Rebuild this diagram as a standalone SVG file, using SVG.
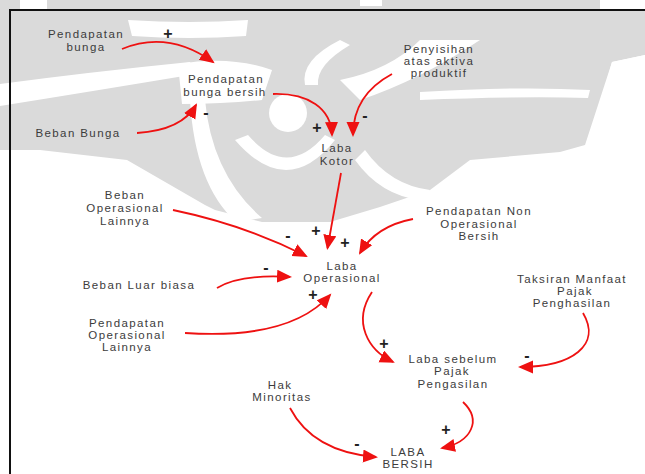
<svg xmlns="http://www.w3.org/2000/svg" width="645" height="474" viewBox="0 0 645 474">
  <style>
    .wm { fill: #dadada; }
    .cut { fill: #ffffff; }
    .lbl { font-family: "Liberation Sans", Arial, sans-serif; font-size: 11.5px; letter-spacing: 1.4px; fill: #3c3c3c; text-anchor: middle; }
    .sign { font-family: "Liberation Sans", Arial, sans-serif; font-size: 16px; font-weight: bold; fill: #222; text-anchor: middle; }
    .link { fill: none; stroke: #ee1111; stroke-width: 1.8; marker-end: url(#head); }
    .frame { fill: none; stroke: #111; stroke-width: 2; }
  </style>
  <defs>
    <marker id="head" markerUnits="userSpaceOnUse" markerWidth="16" markerHeight="14" refX="13" refY="6.5" orient="auto">
      <path d="M0,0 L15,6.5 L0,13 Z" fill="#ee1111"/>
    </marker>
  </defs>
  <rect width="645" height="474" fill="#ffffff"/>

  <!-- background emblem (light grey) -->
  <g id="emblem">
    <path class="wm" d="M0,0 H645 V55 L612,62 L585,145 L560,152 L470,160 L430,190 L380,207 L330,222 L262,222 L215,210 L205,205 L127,160 L40,150 L0,150 Z"/>
    <!-- white gaps along the upper edge -->
    <rect class="cut" x="20" y="0" width="27" height="9"/>
    <rect class="cut" x="600" y="0" width="45" height="9"/>
    <rect class="cut" x="360" y="0" width="22" height="6"/>
    <!-- white stripes between the grey rays -->
    <path class="cut" d="M0,84 Q90,72 190,62 L196,74 Q100,90 0,106 Z"/>
    <path class="cut" d="M178,64 Q230,55 272,70 L262,100 Q225,104 182,104 Z"/>
    <path class="cut" d="M205,100 Q212,175 262,218 L236,222 Q195,185 190,100 Z"/>
    <path class="cut" d="M235,140 Q287,200 335,140 L325,135 Q287,180 248,135 Z"/>
    <circle class="cut" cx="288" cy="113" r="19"/>
    <path class="cut" d="M340,80 Q390,70 420,40 L480,40 Q420,80 360,100 Z"/>
    <path class="cut" d="M420,92 Q520,86 590,90 L588,98 Q520,96 420,100 Z"/>
    <path class="cut" d="M128,20 Q190,24 248,20 L246,36 Q190,40 132,36 Z"/>
    <path class="cut" d="M340,40 Q300,60 305,85 L318,85 Q316,65 350,45 Z"/>
    <path class="cut" d="M612,62 L645,55 V160 L585,160 Z"/>
    <path class="cut" d="M365,150 Q390,185 430,190 L420,200 Q380,195 355,160 Z"/>
  </g>

  <!-- frame -->
  <path class="frame" d="M10,474 V10 H645"/>

  <!-- connectors -->
  <g id="links">
    <path class="link" d="M122,49 Q168,30 213,62"/>
    <path class="link" d="M137,133 Q182,130 196,105"/>
    <path class="link" d="M273,94 C308,93 331,108 332,135"/>
    <path class="link" d="M392,74 C366,88 353,108 353,135"/>
    <path class="link" d="M341,173 L327.5,248"/>
    <path class="link" d="M173,210 Q245,225 306,256"/>
    <path class="link" d="M413,219 Q376,226 360,253"/>
    <path class="link" d="M217,288 Q240,274 290,277"/>
    <path class="link" d="M185,333 Q290,340 330,295"/>
    <path class="link" d="M372,292 C352,322 368,350 393,362"/>
    <path class="link" d="M583,313 C602,345 572,367 520,367"/>
    <path class="link" d="M290,408 Q313,452 376,457"/>
    <path class="link" d="M463,402 C482,420 472,442 442,448"/>
  </g>

  <!-- polarity signs -->
  <g id="signs">
    <text class="sign" x="168" y="39">+</text>
    <text class="sign" x="206" y="118">-</text>
    <text class="sign" x="317" y="133">+</text>
    <text class="sign" x="365" y="121">-</text>
    <text class="sign" x="288" y="241">-</text>
    <text class="sign" x="316" y="236">+</text>
    <text class="sign" x="345" y="248">+</text>
    <text class="sign" x="266" y="273">-</text>
    <text class="sign" x="313" y="300">+</text>
    <text class="sign" x="384" y="349">+</text>
    <text class="sign" x="527" y="361">-</text>
    <text class="sign" x="446" y="435">+</text>
    <text class="sign" x="357" y="449">-</text>
  </g>

  <!-- nodes -->
  <g id="pendapatan-bunga"><text class="lbl" x="86" y="38">Pendapatan</text><text class="lbl" x="86" y="51">bunga</text></g>
  <g id="beban-bunga"><text class="lbl" x="78" y="137">Beban Bunga</text></g>
  <g id="pendapatan-bunga-bersih"><text class="lbl" x="226" y="83">Pendapatan</text><text class="lbl" x="225" y="96">bunga bersih</text></g>
  <g id="penyisihan"><text class="lbl" x="439" y="53">Penyisihan</text><text class="lbl" x="439" y="65">atas aktiva</text><text class="lbl" x="439" y="77">produktif</text></g>
  <g id="laba-kotor"><text class="lbl" x="337" y="152">Laba</text><text class="lbl" x="337" y="165">Kotor</text></g>
  <g id="beban-operasional-lainnya"><text class="lbl" x="125" y="199">Beban</text><text class="lbl" x="125" y="212">Operasional</text><text class="lbl" x="125" y="225">Lainnya</text></g>
  <g id="pendapatan-non-operasional"><text class="lbl" x="479" y="215">Pendapatan Non</text><text class="lbl" x="479" y="228">Operasional</text><text class="lbl" x="479" y="240">Bersih</text></g>
  <g id="laba-operasional"><text class="lbl" x="342" y="270">Laba</text><text class="lbl" x="342" y="282">Operasional</text></g>
  <g id="beban-luar-biasa"><text class="lbl" x="139" y="289">Beban Luar biasa</text></g>
  <g id="pendapatan-operasional-lainnya"><text class="lbl" x="127" y="327">Pendapatan</text><text class="lbl" x="127" y="339">Operasional</text><text class="lbl" x="127" y="351">Lainnya</text></g>
  <g id="taksiran-manfaat-pajak"><text class="lbl" x="572" y="283">Taksiran Manfaat</text><text class="lbl" x="575" y="295">Pajak</text><text class="lbl" x="572" y="307">Penghasilan</text></g>
  <g id="laba-sebelum-pajak"><text class="lbl" x="453" y="363">Laba sebelum</text><text class="lbl" x="452" y="375">Pajak</text><text class="lbl" x="453" y="388">Pengasilan</text></g>
  <g id="hak-minoritas"><text class="lbl" x="280" y="389">Hak</text><text class="lbl" x="282" y="401">Minoritas</text></g>
  <g id="laba-bersih"><text class="lbl" x="408" y="456">LABA</text><text class="lbl" x="408" y="468">BERSIH</text></g>
</svg>
